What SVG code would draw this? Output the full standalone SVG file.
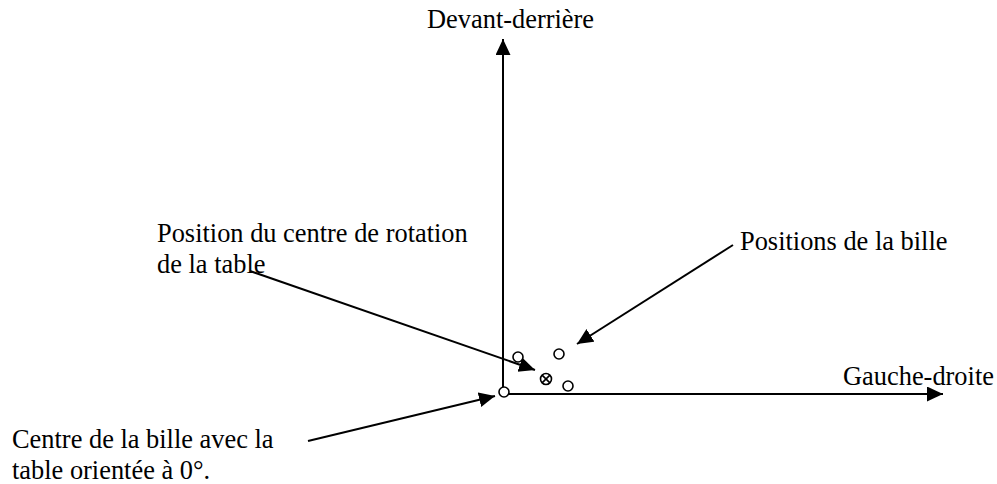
<svg xmlns="http://www.w3.org/2000/svg" width="997" height="484" viewBox="0 0 997 484">
<style>
text { font-family: "Liberation Serif", Tinos, "Times New Roman", Times, serif; font-size: 26.4px; fill: #000; }
.ln { stroke: #000; stroke-width: 2; fill: none; }
.pt { stroke: #000; stroke-width: 1.6; fill: #fff; }
</style>
<defs>
<marker id="ah" markerUnits="userSpaceOnUse" markerWidth="17" markerHeight="16" refX="16" refY="7.5" orient="auto" viewBox="0 0 17 16">
<path d="M0,0 L16,7.5 L0,15 z" fill="#000"/>
</marker>
</defs>
<g id="connectors">
<line class="ln" x1="503" y1="394" x2="503" y2="39" marker-end="url(#ah)"/>
<line class="ln" x1="503" y1="394" x2="943" y2="394" marker-end="url(#ah)"/>
<line class="ln" x1="250" y1="271" x2="535" y2="370" marker-end="url(#ah)"/>
<line class="ln" x1="733" y1="245" x2="577" y2="344" marker-end="url(#ah)"/>
<line class="ln" x1="308" y1="441" x2="495" y2="396" marker-end="url(#ah)"/>
</g>
<g id="axis-y-label"><text x="427" y="28">Devant-derrière</text></g>
<g id="axis-x-label"><text x="843" y="385">Gauche-droite</text></g>
<g id="label-rotation"><text x="157" y="242">Position du centre de rotation</text><text x="157" y="273">de la table</text></g>
<g id="label-positions"><text x="740" y="250">Positions de la bille</text></g>
<g id="label-centre"><text x="12" y="448">Centre de la bille avec la</text><text x="12" y="479">table orientée à 0°.</text></g>
<g id="origin"><circle class="pt" cx="504" cy="392" r="5"/></g>
<g id="pos1"><circle class="pt" cx="518" cy="357" r="5"/></g>
<g id="pos2"><circle class="pt" cx="559" cy="354" r="5"/></g>
<g id="pos3"><circle class="pt" cx="568" cy="386" r="5"/></g>
<g id="rotation-centre"><circle class="pt" cx="546" cy="379" r="5.5"/><path class="ln" style="stroke-width:1.6" d="M542.1,375.1 L549.9,382.9 M549.9,375.1 L542.1,382.9"/></g>
</svg>
